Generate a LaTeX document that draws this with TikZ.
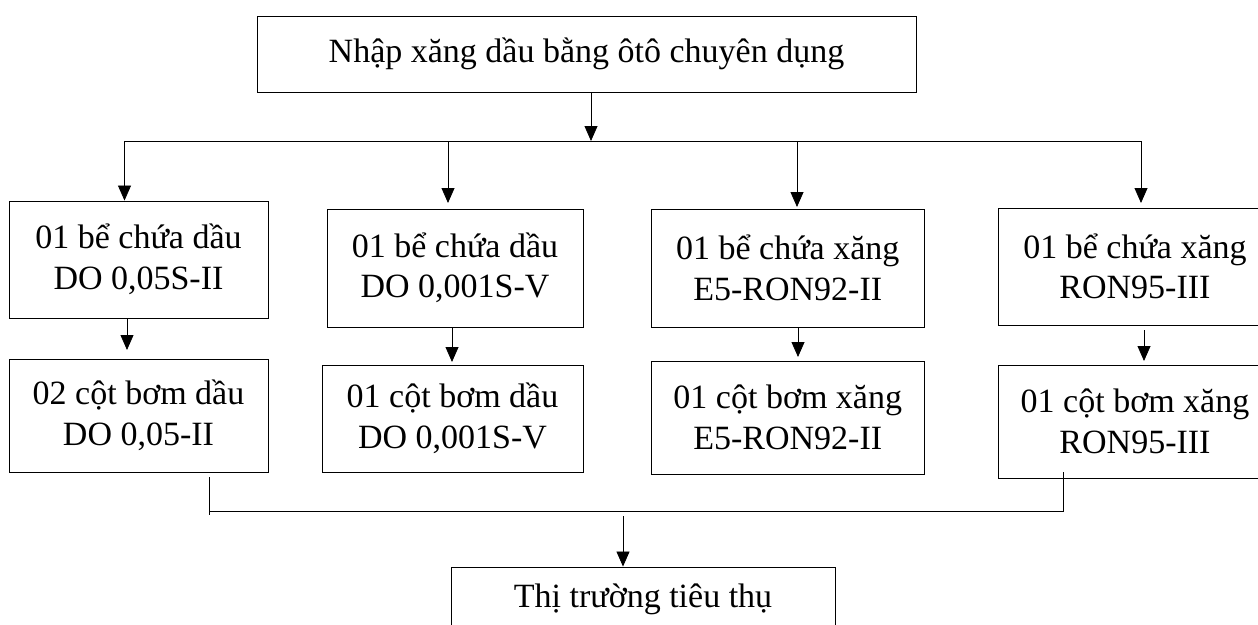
\documentclass[tikz,border=0pt]{standalone}
\usepackage{fontspec}
\setmainfont{Liberation Serif}
\usetikzlibrary{arrows.meta}
\begin{document}
\begin{tikzpicture}[x=1pt,y=-1pt,
  box/.style={draw,line width=0.9pt,inner sep=0pt,align=center,
    font=\fontsize{34}{40.5}\selectfont},
  conn/.style={line width=0.8pt},
  arr/.style={conn,-{Triangle[length=15pt,width=13pt]}}]
\useasboundingbox (0,0) rectangle (1258,624);
% boxes
\node[box,minimum width=659pt,minimum height=76pt] (top) at (586.5,54) {Nhập xăng dầu bằng ôtô chuyên dụng};
\node[box,minimum width=259pt,minimum height=117pt] (b1) at (138.5,259.5) {01 bể chứa dầu\\DO 0,05S-II};
\node[box,minimum width=256pt,minimum height=118pt] (b2) at (455,268) {01 bể chứa dầu\\DO 0,001S-V};
\node[box,minimum width=273.5pt,minimum height=118pt] (b3) at (787.75,268) {01 bể chứa xăng\\E5-RON92-II};
\node[box,minimum width=274pt,minimum height=117pt] (b4) at (1135,266.5) {01 bể chứa xăng\\RON95-III};
\node[box,minimum width=259pt,minimum height=113pt] (c1) at (138.5,415.5) {02 cột bơm dầu\\DO 0,05-II};
\node[box,minimum width=261pt,minimum height=107pt] (c2) at (452.5,418.5) {01 cột bơm dầu\\DO 0,001S-V};
\node[box,minimum width=273.5pt,minimum height=113pt] (c3) at (787.75,417.5) {01 cột bơm xăng\\E5-RON92-II};
\node[box,minimum width=274pt,minimum height=113pt] (c4) at (1135,421.5) {01 cột bơm xăng\\RON95-III};
\node[box,minimum width=384pt,minimum height=64pt] (mk) at (643,599) {Thị trường tiêu thụ};
% top distribution
\coordinate (j0) at (591,141);
\coordinate (busL) at (124.5,141);
\coordinate (busR) at (1141,141);
\draw[arr] (top.south -| j0) -- (j0);
\draw[conn] (busL) -- (busR);
\coordinate (d2) at (448,141);
\coordinate (d3) at (797,141);
\coordinate (t2) at (448,203);
\coordinate (t3) at (797,207);
\coordinate (t4) at (1141,203);
\draw[arr] (busL) -- (b1.north -| busL);
\draw[arr] (d2) -- (t2);
\draw[arr] (d3) -- (t3);
\draw[arr] (busR) -- (t4);
% tank to pump
\coordinate (e1) at (127,350);
\coordinate (e2) at (452,362);
\coordinate (e3) at (798,357);
\coordinate (s4) at (1144,330);
\coordinate (e4) at (1144,361);
\draw[arr] (b1.south -| e1) -- (e1);
\draw[arr] (b2.south -| e2) -- (e2);
\draw[arr] (b3.south -| e3) -- (e3);
\draw[arr] (s4) -- (e4);
% collector
\coordinate (kL0) at (209,477);
\coordinate (kL1) at (209,515);
\coordinate (kL) at (209,511);
\coordinate (kR0) at (1063,472);
\coordinate (kR) at (1063,511);
\coordinate (kM) at (623,516);
\draw[conn] (kL0) -- (kL1);
\draw[conn] (kL) -- (kR) -- (kR0);
\draw[arr] (kM) -- (mk.north -| kM);
\end{tikzpicture}
\end{document}
